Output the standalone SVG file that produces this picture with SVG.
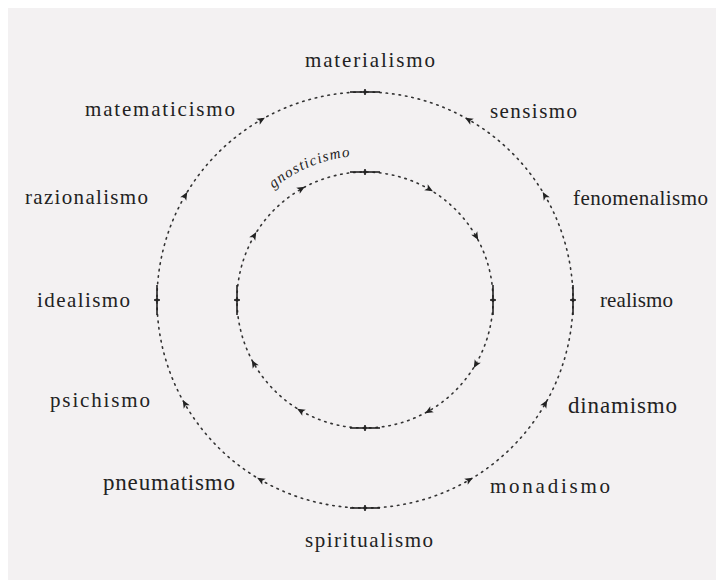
<svg xmlns="http://www.w3.org/2000/svg" width="724" height="587" viewBox="0 0 724 587">
<style>
.bg{fill:#f3f1f2}
.lbl{font-family:"Liberation Serif","DejaVu Serif",serif;font-size:21px;fill:#222}
.big{font-size:23px}
.small{font-family:"Liberation Serif","DejaVu Serif",serif;font-size:15px;fill:#222;font-style:italic}
.circ{fill:none;stroke:#333;stroke-width:1.6;stroke-dasharray:1.5 5;stroke-linecap:round}
.tick{stroke:#222;stroke-width:1.6;fill:none}
.ah{fill:#222}
</style>
<defs>
<path id="ah" d="M4.5,0 L-3.5,-3.5 L-1.5,0 L-3.5,3.5 Z"/>
<g id="tk"><line x1="-15" y1="0" x2="15" y2="0" class="tick"/><line x1="0" y1="-3" x2="0" y2="3" class="tick"/><circle r="1.8" fill="#222"/></g>
<path id="gpath" d="M272,190 A144,144 0 0 1 375,156"/>
</defs>
<rect x="0" y="0" width="724" height="587" fill="#ffffff"/>
<rect x="8" y="8" width="708" height="572" class="bg"/>
<g id="connectors">
<circle cx="365" cy="300" r="208" class="circ"/>
<circle cx="365" cy="300" r="128" class="circ"/>
<use href="#tk" transform="translate(365,92)"/>
<use href="#tk" transform="translate(365,508)"/>
<use href="#tk" transform="translate(157,300) rotate(90)"/>
<use href="#tk" transform="translate(573,300) rotate(90)"/>
<use href="#tk" transform="translate(365,172)"/>
<use href="#tk" transform="translate(365,428)"/>
<use href="#tk" transform="translate(237,300) rotate(90)"/>
<use href="#tk" transform="translate(493,300) rotate(90)"/>
<g class="ah">
<use href="#ah" transform="translate(261,120) rotate(-30)"/>
<use href="#ah" transform="translate(469,120) rotate(-150)"/>
<use href="#ah" transform="translate(185,196) rotate(-60)"/>
<use href="#ah" transform="translate(545,196) rotate(-120)"/>
<use href="#ah" transform="translate(185,404) rotate(-120)"/>
<use href="#ah" transform="translate(545,404) rotate(-60)"/>
<use href="#ah" transform="translate(261,480) rotate(-150)"/>
<use href="#ah" transform="translate(469,480) rotate(-30)"/>
<use href="#ah" transform="translate(254,236) rotate(-60)"/>
<use href="#ah" transform="translate(301,189) rotate(-30)"/>
<use href="#ah" transform="translate(429,189) rotate(30)"/>
<use href="#ah" transform="translate(476,236) rotate(60)"/>
<use href="#ah" transform="translate(476,364) rotate(120)"/>
<use href="#ah" transform="translate(429,411) rotate(150)"/>
<use href="#ah" transform="translate(301,411) rotate(-150)"/>
<use href="#ah" transform="translate(254,364) rotate(-120)"/>
</g>
</g>
<g id="n-materialismo"><text class="lbl" x="305" y="67" textLength="130" lengthAdjust="spacing">materialismo</text></g>
<g id="n-matematicismo"><text class="lbl" x="85" y="116" textLength="150" lengthAdjust="spacing">matematicismo</text></g>
<g id="n-sensismo"><text class="lbl" x="490" y="118" textLength="87" lengthAdjust="spacing">sensismo</text></g>
<g id="n-razionalismo"><text class="lbl" x="25" y="204" textLength="123" lengthAdjust="spacing">razionalismo</text></g>
<g id="n-fenomenalismo"><text class="lbl" x="573" y="205" textLength="135" lengthAdjust="spacing">fenomenalismo</text></g>
<g id="n-idealismo"><text class="lbl" x="37" y="307" textLength="93" lengthAdjust="spacing">idealismo</text></g>
<g id="n-realismo"><text class="lbl" x="600" y="307" textLength="73" lengthAdjust="spacing">realismo</text></g>
<g id="n-psichismo"><text class="lbl" x="50" y="407" textLength="100" lengthAdjust="spacing">psichismo</text></g>
<g id="n-dinamismo"><text class="lbl big" x="568" y="413" textLength="109" lengthAdjust="spacing">dinamismo</text></g>
<g id="n-pneumatismo"><text class="lbl big" x="103" y="490" textLength="132" lengthAdjust="spacing">pneumatismo</text></g>
<g id="n-monadismo"><text class="lbl" x="490" y="493" textLength="120" lengthAdjust="spacing">monadismo</text></g>
<g id="n-spiritualismo"><text class="lbl" x="305" y="547" textLength="128" lengthAdjust="spacing">spiritualismo</text></g>
<g id="n-gnosticismo"><text class="small"><textPath href="#gpath" startOffset="2" textLength="84" lengthAdjust="spacing">gnosticismo</textPath></text></g>
</svg>
